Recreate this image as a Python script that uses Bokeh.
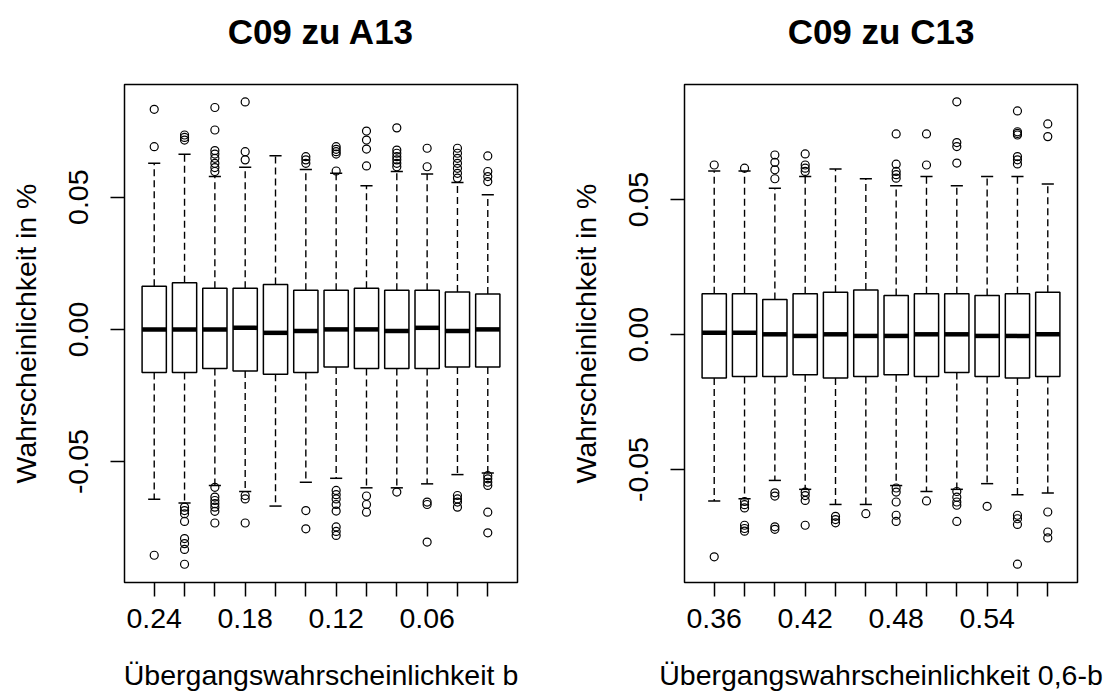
from bokeh.plotting import figure
from bokeh.models import Range1d, FixedTicker, LinearAxis
from bokeh.layouts import row
from bokeh.embed import file_html
from bokeh.resources import INLINE

# ---------------- data: left panel (C09 zu A13) ----------------
left_b = ["0.24", "0.22", "0.20", "0.18", "0.16", "0.14", "0.12", "0.10", "0.08", "0.06", "0.04", "0.02"]
left_q1 = [-0.0163, -0.0163, -0.0148, -0.0157, -0.0170, -0.0163, -0.0142, -0.0148, -0.0148, -0.0148, -0.0142, -0.0142]
left_med = [0.0, 0.0, 0.0, 0.0006, -0.0013, -0.0006, 0.0, 0.0, -0.0006, 0.0006, -0.0006, 0.0]
left_q3 = [0.0163, 0.0176, 0.0156, 0.0156, 0.0170, 0.0148, 0.0148, 0.0156, 0.0148, 0.0148, 0.0141, 0.0134]
left_lo = [-0.0642, -0.0656, -0.0590, -0.0613, -0.0668, -0.0578, -0.0563, -0.0599, -0.0599, -0.0584, -0.0549, -0.0543]
left_hi = [0.0628, 0.0662, 0.0578, 0.0613, 0.0657, 0.0605, 0.0590, 0.0543, 0.0597, 0.0588, 0.0555, 0.0509]
left_out = [
    [0.0832, 0.0691, -0.0854],
    [0.0735, 0.0726, 0.0716, -0.0672, -0.0685, -0.0697, -0.0726, -0.0791, -0.0810, -0.0832, -0.0888],
    [0.0839, 0.0754, 0.0676, 0.0663, 0.0647, 0.0628, 0.0612, 0.0597,
     -0.0597, -0.0634, -0.0647, -0.0659, -0.0672, -0.0688, -0.0732],
    [0.0860, 0.0672, 0.0641, -0.0628, -0.0641, -0.0732],
    [],
    [0.0653, 0.0641, 0.0628, -0.0685, -0.0754],
    [0.0691, 0.0681, 0.0672, 0.0663, 0.0599,
     -0.0609, -0.0625, -0.0641, -0.0662, -0.0687, -0.0747, -0.0764, -0.0779],
    [0.0750, 0.0716, 0.0682, 0.0618, -0.0630, -0.0662, -0.0691],
    [0.0762, 0.0678, 0.0666, 0.0653, 0.0641, 0.0628, 0.0615, -0.0615],
    [0.0685, 0.0615, -0.0653, -0.0662, -0.0804],
    [0.0685, 0.0666, 0.0647, 0.0628, 0.0609, 0.0590, 0.0572, -0.0628, -0.0641, -0.0653, -0.0672],
    [0.0656, 0.0597, 0.0578, 0.0559, -0.0553, -0.0565, -0.0578, -0.0590, -0.0691, -0.0769],
]

# ---------------- data: right panel (C09 zu C13) ----------------
right_b = ["0.36", "0.38", "0.40", "0.42", "0.44", "0.46", "0.48", "0.50", "0.52", "0.54", "0.56", "0.58"]
right_q1 = [-0.0161, -0.0155, -0.0155, -0.0149, -0.0161, -0.0155, -0.0149, -0.0155, -0.0140, -0.0155, -0.0161, -0.0155]
right_med = [0.0007, 0.0007, 0.0001, -0.0005, 0.0001, -0.0005, -0.0005, 0.0001, 0.0001, -0.0005, -0.0005, 0.0001]
right_q3 = [0.0151, 0.0151, 0.0130, 0.0151, 0.0157, 0.0165, 0.0145, 0.0151, 0.0151, 0.0145, 0.0151, 0.0157]
right_lo = [-0.0616, -0.0608, -0.0540, -0.0573, -0.0629, -0.0629, -0.0559, -0.0581, -0.0573, -0.0552, -0.0593, -0.0587]
right_hi = [0.0606, 0.0606, 0.0542, 0.0585, 0.0613, 0.0577, 0.0551, 0.0585, 0.0551, 0.0585, 0.0585, 0.0558]
right_out = [
    [0.0628, -0.0823],
    [0.0616, -0.0618, -0.0630, -0.0642, -0.0706, -0.0718, -0.0728],
    [0.0665, 0.0638, 0.0610, 0.0577, -0.0586, -0.0598, -0.0712, -0.0721],
    [0.0669, 0.0628, 0.0616, 0.0604, -0.0583, -0.0596, -0.0614, -0.0706],
    [-0.0673, -0.0685, -0.0697],
    [-0.0663],
    [0.0743, 0.0631, 0.0604, 0.0592, 0.0579, -0.0568, -0.0583, -0.0620, -0.0669, -0.0692],
    [0.0743, 0.0628, -0.0616],
    [0.0862, 0.0711, 0.0696, 0.0635, -0.0581, -0.0602, -0.0620, -0.0632, -0.0692],
    [-0.0636],
    [0.0828, 0.0751, 0.0745, 0.0739, 0.0659, 0.0647, 0.0632, -0.0669, -0.0682, -0.0703, -0.0850],
    [0.0780, 0.0733, -0.0657, -0.0731, -0.0753],
]

y_tick_values = [-0.05, 0.0, 0.05]
y_tick_labels = ["-0.05", "0.00", "0.05"]

FONT = "Liberation Sans"
BASE = "28.5px"


def panel(title, xlabel, labels, q1, med, q3, lo, hi, outs, y0, y1):
    n = len(labels)
    xs = list(range(1, n + 1))
    p = figure(width=560, height=693, output_backend="svg", toolbar_location=None,
               x_range=Range1d(0.5 - 0.04 * n, n + 0.5 + 0.04 * n), y_range=Range1d(y0, y1),
               min_border_left=124, min_border_right=43, min_border_top=84, min_border_bottom=109)
    p.grid.visible = False
    p.background_fill_color = "white"
    p.border_fill_color = "white"
    p.outline_line_color = "black"
    p.outline_line_width = 1.5

    xa = p.below[0]
    ya = p.left[0]

    # title drawn as the label of an empty axis above the frame
    tax = LinearAxis(ticker=FixedTicker(ticks=[]), axis_label=title)
    tax.axis_line_color = None
    tax.major_tick_out = 0
    tax.major_tick_in = 0
    tax.minor_tick_out = 0
    tax.minor_tick_in = 0
    tax.major_label_standoff = 0
    tax.axis_label_text_font = FONT
    tax.axis_label_text_font_style = "bold"
    tax.axis_label_text_font_size = "35px"
    tax.axis_label_text_color = "black"
    tax.axis_label_standoff = 34
    p.add_layout(tax, "above")

    # whiskers (dashed)
    p.segment(x0=xs, y0=q3, x1=xs, y1=hi, line_color="black", line_width=1.4, line_dash="7 4")
    p.segment(x0=xs, y0=q1, x1=xs, y1=lo, line_color="black", line_width=1.4, line_dash="7 4")
    # staples
    p.segment(x0=[x - 0.2 for x in xs], y0=hi, x1=[x + 0.2 for x in xs], y1=hi, line_color="black", line_width=1.5)
    p.segment(x0=[x - 0.2 for x in xs], y0=lo, x1=[x + 0.2 for x in xs], y1=lo, line_color="black", line_width=1.5)
    # boxes
    p.vbar(x=xs, width=0.8, top=q3, bottom=q1, fill_color="white", line_color="black", line_width=1.5)
    # medians
    p.segment(x0=[x - 0.4 for x in xs], y0=med, x1=[x + 0.4 for x in xs], y1=med, line_color="black", line_width=4.5)
    # outliers
    ox, oy = [], []
    for x, vals in zip(xs, outs):
        for v in vals:
            ox.append(x)
            oy.append(v)
    p.scatter(ox, oy, marker="circle", size=8, fill_color=None, line_color="black", line_width=1.2)

    # x axis
    xa.ticker = FixedTicker(ticks=xs)
    xa.major_label_overrides = {x: (lab if (i % 3 == 0) else "") for i, (x, lab) in enumerate(zip(xs, labels))}
    xa.axis_label = xlabel
    # y axis
    ya.ticker = FixedTicker(ticks=y_tick_values)
    ya.major_label_overrides = {v: lab for v, lab in zip(y_tick_values, y_tick_labels)}
    ya.major_label_orientation = "vertical"
    ya.axis_label = "Wahrscheinlichkeit in %"
    for ax in (xa, ya):
        ax.axis_line_color = None
        ax.minor_tick_line_color = None
        ax.major_tick_in = 0
        ax.major_tick_out = 14
        ax.major_tick_line_width = 1.5
        ax.major_tick_line_color = "black"
        ax.major_label_text_font = FONT
        ax.major_label_text_font_size = BASE
        ax.major_label_text_color = "black"
        ax.axis_label_text_font = FONT
        ax.axis_label_text_font_size = BASE
        ax.axis_label_text_font_style = "normal"
        ax.axis_label_text_color = "black"
    xa.major_label_standoff = 12
    xa.axis_label_standoff = 28
    ya.major_label_standoff = 22
    ya.axis_label_standoff = 25
    return p


p1 = panel("C09 zu A13", "Übergangswahrscheinlichkeit b", left_b,
           left_q1, left_med, left_q3, left_lo, left_hi, left_out, -0.0957, 0.0926)
p2 = panel("C09 zu C13", "Übergangswahrscheinlichkeit 0,6-b", right_b,
           right_q1, right_med, right_q3, right_lo, right_hi, right_out, -0.0918, 0.0926)

layout = row(p1, p2)
open("out.html", "w").write(file_html(layout, INLINE))
